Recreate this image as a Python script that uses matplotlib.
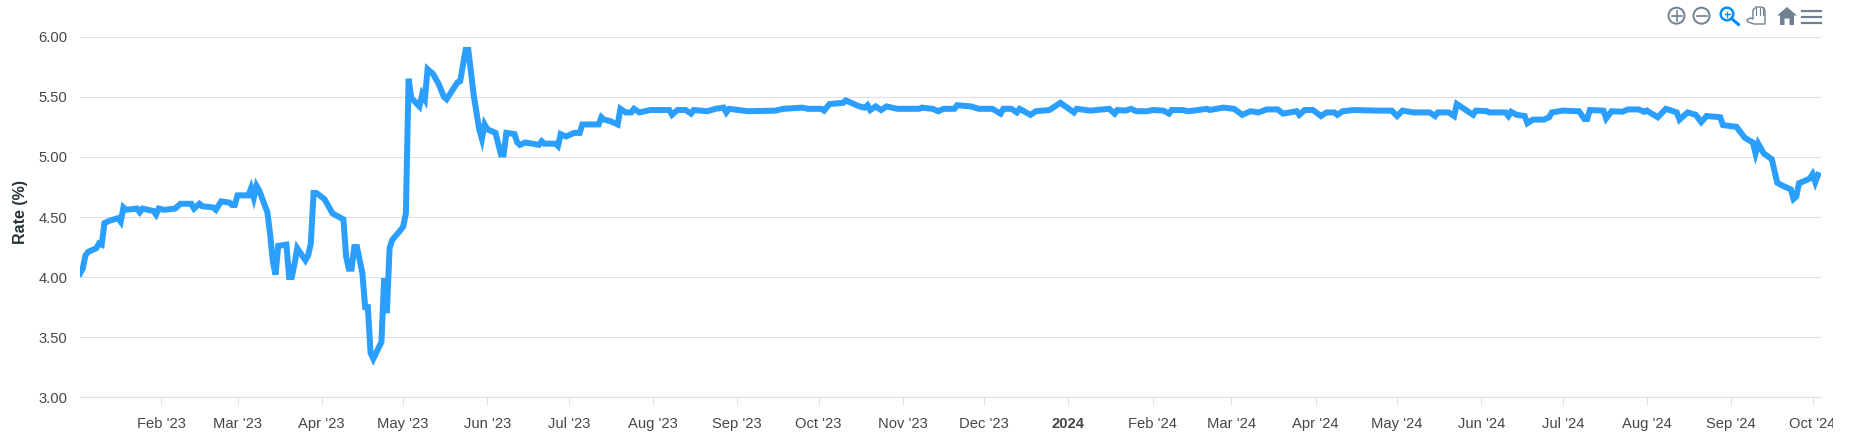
#!/usr/bin/env python
# -*- coding: utf-8 -*-
import datetime as dt
import matplotlib
matplotlib.use('Agg')
from matplotlib import pyplot as plt
from matplotlib import patches
from matplotlib.transforms import Bbox
import pandas as pd

plt.rcParams['font.family'] = ['Liberation Sans', 'DejaVu Sans']

# days since the first date on the chart, and the rate on that day
start = dt.date(2023, 1, 2)
days = [0, 1, 2, 3, 6, 7, 8, 9, 11, 14, 15, 16, 17, 21, 22, 23, 27, 28, 29, 31,
        35, 37, 41, 42, 44, 45, 49, 50, 52, 55, 56, 57, 58, 62, 63, 64, 65, 66,
        69, 70, 71, 72, 73, 76, 77, 78, 79, 80, 83, 84, 85, 86, 87, 90, 93, 97,
        98, 99, 100, 101, 102, 104, 105, 106, 107, 108, 111, 112, 113, 114,
        115, 118, 119, 120, 121, 122, 125, 126, 127, 128, 130, 132, 134, 135,
        139, 140, 142, 143, 145, 147, 148, 149, 150, 153, 155, 156, 157, 160,
        161, 162, 164, 169, 170, 171, 175, 176, 177, 179, 182, 184, 185, 191,
        192, 193, 195, 198, 199, 201, 203, 204, 206, 210, 217, 218, 220, 223,
        225, 226, 231, 234, 237, 238, 239, 246, 256, 259, 266, 268, 273, 274,
        276, 281, 282, 287, 289, 290, 291, 293, 295, 297, 301, 309, 310, 314,
        316, 318, 322, 323, 328, 331, 336, 339, 340, 343, 345, 346, 350, 352,
        357, 361, 366, 367, 372, 379, 381, 382, 385, 387, 389, 393, 395, 399,
        401, 402, 406, 408, 410, 415, 416, 421, 425, 428, 431, 434, 437, 441,
        443, 448, 449, 451, 454, 457, 459, 462, 463, 465, 469, 478, 483, 485,
        487, 491, 497, 499, 500, 504, 506, 507, 513, 514, 518, 519, 525, 526,
        527, 529, 532, 533, 535, 539, 541, 542, 546, 552, 554, 555, 556, 561,
        562, 564, 568, 570, 574, 576, 577, 578, 581, 584, 588, 589, 592, 595,
        597, 599, 604, 605, 610, 613, 616, 617, 618, 620, 623, 625, 627, 630,
        631, 632, 633, 637, 638, 639, 640]
rates = [4.03, 4.07, 4.18, 4.21, 4.24, 4.28, 4.27, 4.45, 4.47, 4.49, 4.46, 4.58,
         4.56, 4.57, 4.54, 4.57, 4.55, 4.52, 4.57, 4.56, 4.57, 4.61, 4.61, 4.57,
         4.61, 4.59, 4.58, 4.56, 4.63, 4.62, 4.60, 4.60, 4.68, 4.68, 4.74, 4.66,
         4.76, 4.72, 4.54, 4.36, 4.13, 4.02, 4.26, 4.27, 4.00, 4.00, 4.11, 4.24,
         4.14, 4.18, 4.28, 4.70, 4.70, 4.65, 4.53, 4.48, 4.17, 4.07, 4.07, 4.25,
         4.25, 4.03, 3.75, 3.75, 3.37, 3.32, 3.46, 3.99, 3.70, 4.24, 4.31, 4.39,
         4.42, 4.53, 5.65, 5.49, 5.42, 5.52, 5.48, 5.73, 5.69, 5.61, 5.50, 5.48,
         5.62, 5.63, 5.89, 5.89, 5.51, 5.23, 5.15, 5.27, 5.23, 5.20, 5.02, 5.02,
         5.20, 5.19, 5.12, 5.10, 5.12, 5.10, 5.13, 5.11, 5.11, 5.09, 5.19, 5.17,
         5.20, 5.20, 5.27, 5.27, 5.33, 5.31, 5.30, 5.27, 5.40, 5.37, 5.37, 5.40,
         5.37, 5.39, 5.39, 5.35, 5.39, 5.39, 5.36, 5.39, 5.38, 5.40, 5.41, 5.37,
         5.40, 5.38, 5.385, 5.40, 5.41, 5.40, 5.40, 5.385, 5.44, 5.45, 5.47, 5.42,
         5.41, 5.43, 5.39, 5.42, 5.39, 5.42, 5.40, 5.40, 5.41, 5.40, 5.38, 5.40,
         5.40, 5.43, 5.42, 5.40, 5.40, 5.36, 5.40, 5.40, 5.37, 5.40, 5.35, 5.38,
         5.39, 5.45, 5.37, 5.40, 5.385, 5.40, 5.36, 5.39, 5.385, 5.40, 5.38, 5.38,
         5.39, 5.385, 5.36, 5.39, 5.39, 5.38, 5.385, 5.40, 5.39, 5.41, 5.40, 5.35,
         5.38, 5.37, 5.395, 5.395, 5.36, 5.38, 5.35, 5.39, 5.39, 5.34, 5.37, 5.37,
         5.35, 5.38, 5.39, 5.385, 5.385, 5.34, 5.385, 5.37, 5.37, 5.34, 5.37, 5.37,
         5.34, 5.44, 5.35, 5.385, 5.38, 5.37, 5.37, 5.34, 5.375, 5.35, 5.34, 5.28,
         5.31, 5.31, 5.33, 5.37, 5.385, 5.38, 5.315, 5.315, 5.39, 5.385, 5.32, 5.38,
         5.376, 5.395, 5.395, 5.375, 5.385, 5.37, 5.33, 5.40, 5.37, 5.31, 5.37, 5.35,
         5.29, 5.34, 5.33, 5.265, 5.25, 5.16, 5.12, 5.03, 5.11, 5.03, 4.98, 4.785,
         4.76, 4.73, 4.65, 4.67, 4.78, 4.82, 4.855, 4.79, 4.85]
month_labels = ["Feb '23", "Mar '23", "Apr '23", "May '23", "Jun '23", "Jul '23",
                "Aug '23", "Sep '23", "Oct '23", "Nov '23", "Dec '23", "2024",
                "Feb '24", "Mar '24", "Apr '24", "May '24", "Jun '24", "Jul '24",
                "Aug '24", "Sep '24", "Oct '24"]
y_ticks = [3.0, 3.5, 4.0, 4.5, 5.0, 5.5, 6.0]

W, H = 1850, 437
x0, x1, ytop, ybot = 80.0, 1820.7, 36.7, 397.3
GRID = '#e0e0e0'
TEXT = '#444749'
PX = 0.72  # one pixel in points at dpi 100
LABEL_SIZE = 10.6

dates = [start + dt.timedelta(days=d) for d in days]
months = pd.date_range('2023-02-01', periods=len(month_labels), freq='MS')

fig = plt.figure(figsize=(W / 100, H / 100), dpi=100, facecolor='white')
ax = fig.add_axes([x0 / W, 1 - ybot / H, (x1 - x0) / W, (ybot - ytop) / H])
ax.plot(dates, rates, color='#2a9fff', lw=6 * PX, solid_joinstyle='miter', zorder=3)
ax.set_xlim(start, start + dt.timedelta(days=641))
ax.set_ylim(3, 6)
ax.set_yticks(y_ticks)
ax.set_yticklabels(['%.2f' % v for v in y_ticks], fontsize=LABEL_SIZE, color=TEXT)
ax.set_xticks(months)
ax.set_xticklabels(month_labels, fontsize=LABEL_SIZE, color=TEXT)
ax.grid(axis='y', color=GRID, lw=1.1 * PX)
ax.tick_params(axis='y', length=0, pad=9)
ax.tick_params(axis='x', length=6, width=PX, color=GRID, pad=8)
for side in ['top', 'left', 'right']:
    ax.spines[side].set_visible(False)
ax.spines['bottom'].set_color(GRID)
ax.spines['bottom'].set_linewidth(1.1 * PX)
ax.set_axisbelow(True)
ax.get_xticklabels()[11].set_fontweight('bold')

# the last label is cut off at the edge of the chart area
last = ax.get_xticklabels()[-1]
last.set_clip_box(Bbox([[0, 0], [1833, H]]))
last.set_clip_on(True)

fig.text(20.5 / W, 1 - 212 / H, 'Rate (%)', rotation=90, ha='center', va='center',
         fontsize=11.5, fontweight='bold', color='#263238')

# toolbar icons, in pixel coordinates on an overlay
tb = fig.add_axes([0, 0, 1, 1], facecolor='none')
tb.set_xlim(0, W)
tb.set_ylim(H, 0)
tb.axis('off')
ICON = '#6e8192'
BLUE = '#008ffb'
tb.add_patch(patches.Circle((1676.5, 15.7), 8, fc='none', ec=ICON, lw=1.4))
tb.plot([1671.5, 1681.5], [15.7, 15.7], color=ICON, lw=1.2)
tb.plot([1676.5, 1676.5], [10.7, 20.7], color=ICON, lw=1.2)
tb.add_patch(patches.Circle((1701.5, 15.7), 8, fc='none', ec=ICON, lw=1.4))
tb.plot([1696.5, 1706.5], [15.7, 15.7], color=ICON, lw=1.2)
# zoom glass
tb.add_patch(patches.Circle((1727, 14), 6.3, fc='none', ec=BLUE, lw=1.8))
tb.plot([1731.5, 1738.5], [18.5, 24.5], color=BLUE, lw=2.2)
tb.plot([1724.5, 1729.5], [14, 14], color=BLUE, lw=1)
tb.plot([1727, 1727], [11.5, 16.5], color=BLUE, lw=1)
# hand
tb.add_patch(patches.Polygon([(1747, 20), (1750, 18), (1753, 19), (1753, 10), (1756, 7),
                              (1759, 7), (1761, 7), (1764, 8), (1765, 11), (1765, 24),
                              (1754, 24), (1748, 22)], closed=True, fc='white', ec=ICON, lw=1))
for xf in [1756, 1759.5, 1762.5]:
    tb.plot([xf, xf], [8, 15], color=ICON, lw=0.8)
# home
tb.add_patch(patches.Polygon([(1777, 15.5), (1787, 7), (1797, 15.5), (1794, 15.5), (1794, 25),
                              (1789.5, 25), (1789.5, 18.5), (1784.5, 18.5), (1784.5, 25),
                              (1780, 25), (1780, 15.5)], closed=True, fc=ICON, ec='none'))
# menu
for yb in [11, 17, 22.5]:
    tb.plot([1802, 1821], [yb, yb], color=ICON, lw=1.6)

fig.savefig('out.png', dpi=100)
